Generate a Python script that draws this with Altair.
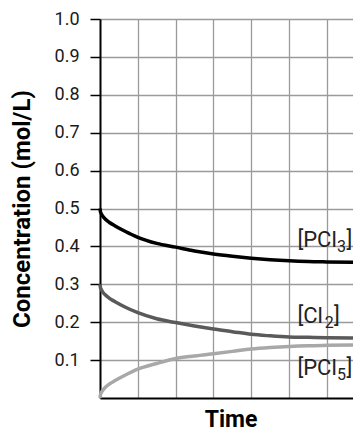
import altair as alt
import pandas as pd

# ---- data ----
time = [0, 0.01, 0.03, 0.07, 0.13, 0.25, 0.4, 0.66, 1, 1.5, 2, 2.5, 3, 3.5, 4, 4.5, 5, 5.5, 6, 6.69]
pcl3 = [0.5, 0.4925, 0.487, 0.48, 0.473, 0.463, 0.454, 0.44, 0.424, 0.408, 0.398, 0.388,
        0.380, 0.374, 0.369, 0.365, 0.362, 0.360, 0.359, 0.358]
cl2 = [0.3, 0.2925, 0.287, 0.28, 0.273, 0.263, 0.254, 0.24, 0.225, 0.209, 0.199, 0.19,
       0.182, 0.175, 0.168, 0.164, 0.161, 0.160, 0.159, 0.158]
pcl5 = [0, 0.0075, 0.013, 0.02, 0.027, 0.037, 0.046, 0.06, 0.076, 0.091, 0.104, 0.111,
        0.117, 0.123, 0.129, 0.133, 0.136, 0.138, 0.139, 0.140]

series_names = ["PCl3", "Cl2", "PCl5"]
series_colors = ["#000000", "#5a5a5a", "#a8a8a8"]

y_ticks = [0.1, 0.2, 0.3, 0.4, 0.5, 0.6, 0.7, 0.8, 0.9, 1.0]
x_grid = [1, 2, 3, 4, 5, 6]

label_main = ["[PCl", "[Cl", "[PCl"]
label_sub = ["3", "2", "5"]
label_close = ["]", "]", "]"]
label_y = [0.399, 0.197, 0.061]
label_x_main = [5.22, 5.22, 5.22]
label_x_sub = [6.27, 5.94, 6.27]
label_x_close = [6.52, 6.19, 6.52]

# ---- build tables ----
rows = []
for name, vals in zip(series_names, [pcl3, cl2, pcl5]):
    for t, v in zip(time, vals):
        rows.append({"time": t, "conc": v, "series": name})
df = pd.DataFrame(rows)

main_df = pd.DataFrame({"time": label_x_main, "conc": label_y, "text": label_main})
sub_df = pd.DataFrame({"time": label_x_sub, "conc": label_y, "text": label_sub})
close_df = pd.DataFrame({"time": label_x_close, "conc": label_y, "text": label_close})

FONT = "Roboto"

x_enc = alt.X(
    "time:Q",
    scale=alt.Scale(domain=[0, 6.69], nice=False, zero=False),
    axis=alt.Axis(
        values=x_grid, ticks=False, labels=False, grid=True,
        gridColor="#9a9a9a", gridWidth=1.3,
        domainColor="black", domainWidth=2,
        title="Time", titleFont=FONT, titleFontSize=23, titleFontWeight="bold",
        titleColor="black", titleX=130.5, titleY=28, titleBaseline="alphabetic",
        titleAlign="center",
    ),
)
y_enc = alt.Y(
    "conc:Q",
    scale=alt.Scale(domain=[0, 1], nice=False),
    axis=alt.Axis(
        values=y_ticks, format=".1f", grid=True,
        gridColor="#9a9a9a", gridWidth=1.3,
        domainColor="black", domainWidth=2,
        tickColor="black", tickWidth=1.5, tickSize=10,
        labelPadding=11, labelFont=FONT, labelFontSize=18, labelColor="#1a1a1a",
        title="Concentration (mol/L)", titleFont=FONT, titleFontSize=24,
        titleFontWeight="bold", titleColor="black", titleAngle=270,
        titleX=-78, titleY=189.5, titleBaseline="middle", titleAlign="center",
    ),
)

lines = alt.Chart(df).mark_line(strokeWidth=3.5, interpolate="monotone").encode(
    x=x_enc,
    y=y_enc,
    color=alt.Color("series:N", scale=alt.Scale(domain=series_names, range=series_colors),
                    legend=None),
    detail="series:N",
)

t_main = alt.Chart(main_df).mark_text(
    align="left", baseline="alphabetic", font=FONT, fontSize=22, color="#222222"
).encode(x=x_enc, y=y_enc, text="text:N")

t_sub = alt.Chart(sub_df).mark_text(
    align="left", baseline="alphabetic", font=FONT, fontSize=16, dy=5, color="#222222"
).encode(x=x_enc, y=y_enc, text="text:N")

t_close = alt.Chart(close_df).mark_text(
    align="left", baseline="alphabetic", font=FONT, fontSize=22, color="#222222"
).encode(x=x_enc, y=y_enc, text="text:N")

chart = alt.layer(lines, t_main, t_sub, t_close).properties(
    width=253,
    height=379,
    autosize=alt.AutoSizeParams(type="none"),
    padding={"left": 92, "top": 11, "right": 0, "bottom": 34},
).configure_view(stroke=None)

chart.save("out.html", embed_options={"renderer": "svg", "actions": False})
